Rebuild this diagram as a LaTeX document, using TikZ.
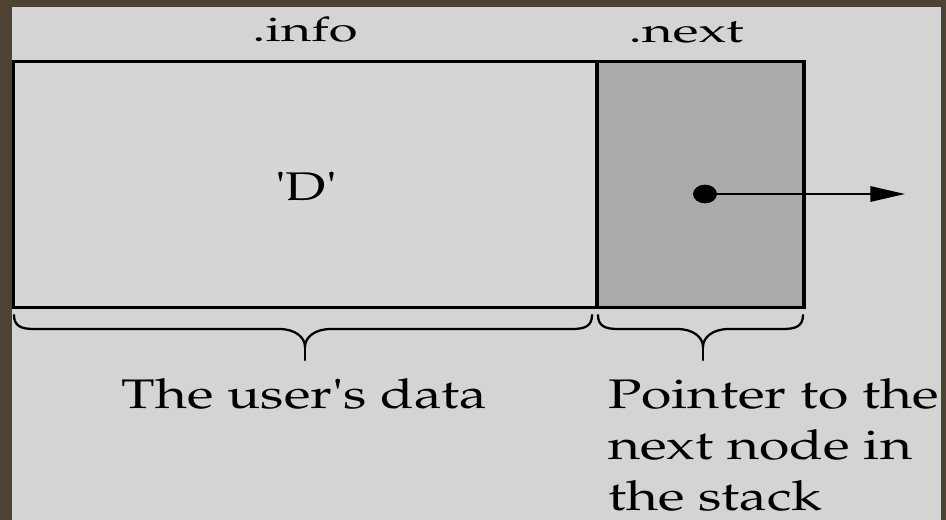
\documentclass[tikz,border=0pt]{standalone}
\usepackage[T1]{fontenc}
\usepackage{mathpazo}
\usepackage{textcomp}
\usepackage{graphicx}
\usetikzlibrary{arrows.meta,shapes.geometric}

\definecolor{frame}{RGB}{78,67,50}
\definecolor{paper}{RGB}{212,212,212}
\definecolor{cellfill}{RGB}{214,214,214}
\definecolor{ptrfill}{RGB}{171,171,171}

% text set at a given height and stretched to a given width
\newcommand\wtext[2]{\resizebox{#1}{\height}{#2}}
% a curly brace hanging under a span: left end, middle, right end
\newcommand\spanbrace[3]{%
  \draw[bracepath] (#1,315) .. controls (#1,326) and (#1+7,329) .. (#1+20,329)
    -- (#2-26,329) .. controls (#2-10,329) and (#2,337) .. (#2,347)
    .. controls (#2,337) and (#2+10,329) .. (#2+26,329)
    -- (#3-20,329) .. controls (#3-7,329) and (#3,326) .. (#3,315);
  \draw[bracepath] (#2,347) -- (#2,360);}

\tikzset{
  cell/.style={draw=black, line width=2.4pt, inner sep=0pt, minimum height=184.5pt},
  bracepath/.style={line width=1.7pt, line cap=round},
  lbl/.style={inner sep=0pt, anchor=base, text=black},
  lbll/.style={inner sep=0pt, anchor=base west, text=black},
}

\begin{document}
\begin{tikzpicture}[x=0.75pt, y=-0.75pt]
  % frame and page
  \fill[frame] (0,0) rectangle (946,520);
  \fill[paper] (12,7) rectangle (941,520);
  \useasboundingbox (0,0) rectangle (946,520);

  % the stack node: data cell and pointer cell
  \node[cell, fill=ptrfill, minimum width=155.25pt] (next) at (700.5,184.5) {};
  \node[cell, fill=cellfill, minimum width=437.6pt] (info) at (305.25,184.5) {};

  % field names
  \node[lbl] (infolbl) at (305,42) {\fontsize{25.5}{30}\selectfont\wtext{78.75pt}{.info}};
  \node[lbl] (nextlbl) at (686,43) {\fontsize{25.5}{30}\selectfont\wtext{86.25pt}{.next}};

  % contents
  \node[lbl] (data) at (306,201) {\fontsize{30}{36}\selectfont\wtext{46.5pt}{\textquotesingle D\textquotesingle}};
  \node[ellipse, fill=black, inner sep=0pt, minimum width=18pt, minimum height=14pt] (ptr) at (705,194) {};
  \coordinate (ptrend) at (905,194);
  \draw[line width=1.5pt, -{Triangle[length=26pt,width=11.5pt]}] (ptr.center) -- (ptrend);

  % braces
  \spanbrace{14}{305}{592}
  \spanbrace{598}{703}{803}

  % descriptions
  \node[lbl] (userdata) at (304.5,408) {\fontsize{31}{36}\selectfont\wtext{273.75pt}{The user\textquotesingle s data}};
  \node[lbll] (desc1) at (608,408) {\fontsize{31}{36}\selectfont\wtext{248pt}{Pointer to the}};
  \node[lbll] (desc2) at (608,459) {\fontsize{31}{36}\selectfont\wtext{228pt}{next node in}};
  \node[lbll] (desc3) at (608,510) {\fontsize{31}{36}\selectfont\wtext{160.5pt}{the stack}};
\end{tikzpicture}
\end{document}
